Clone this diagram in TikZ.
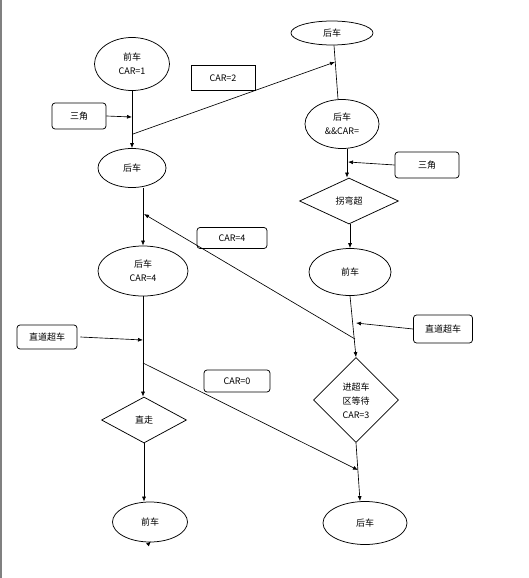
\documentclass[tikz,border=0pt]{standalone}
\usepackage{fontspec}
\setmainfont{Noto Sans CJK SC}
\usetikzlibrary{shapes.geometric,arrows.meta,calc}
\begin{document}
\begin{tikzpicture}[x=1pt,y=-1pt,
  every node/.style={font=\fontsize{9}{14}\selectfont, align=center, inner sep=0pt},
  ell/.style={draw, ellipse, line width=0.75pt},
  dia/.style={draw, diamond, line width=0.75pt},
  rbox/.style={draw, rounded corners=3pt, line width=0.75pt},
  sbox/.style={draw, line width=0.75pt},
  arr/.style={line width=0.65pt, -{Latex[length=5pt,width=4pt]}},
  ln/.style={line width=0.65pt}]
\useasboundingbox (0,0) rectangle (528,578);
\draw[gray, line width=1.5pt] (1,0) -- (1,578);
% nodes
\node[ell, minimum width=75, minimum height=53] (e1) at (132,64) {前车\\CAR=1};
\node[ell, minimum width=68, minimum height=39] (e2) at (132,168) {后车};
\node[ell, minimum width=90, minimum height=50] (e3) at (143,271) {后车\\CAR=4};
\node[dia, minimum width=85, minimum height=46] (d3) at (144,420) {直走};
\node[ell, minimum width=75, minimum height=40] (e7) at (150,522) {前车};
\node[rbox, minimum width=54, minimum height=26] (t1) at (79,116) {三角};
\node[rbox, minimum width=60, minimum height=24] (z1) at (47,337) {直道超车};
\node[sbox, minimum width=64, minimum height=25] (c2) at (223,78) {CAR=2};
\node[rbox, minimum width=70, minimum height=21] (c4) at (232,238) {CAR=4};
\node[rbox, minimum width=66, minimum height=22] (c0) at (237,381) {CAR=0};
\node[ell, minimum width=82, minimum height=24] (e4) at (332,33) {后车};
\node[ell, minimum width=74, minimum height=49] (e5) at (342,124) {后车\\\&\&CAR=};
\node[rbox, minimum width=64, minimum height=26] (t2) at (427,165) {三角};
\node[dia, minimum width=99, minimum height=46] (d1) at (349,201) {拐弯超};
\node[ell, minimum width=82, minimum height=47] (e6) at (350,272) {前车};
\node[rbox, minimum width=59, minimum height=28] (z2) at (443,329) {直道超车};
\node[dia, minimum width=85, minimum height=85] (d2) at (356,400) {};
\node (d2t) at (356,401) {进超车\\区等待\\CAR=3};
\node[ell, minimum width=84, minimum height=43] (e8) at (365,523) {后车};
% junction coordinates
\coordinate (j1) at (132,117);
\coordinate (j2) at (133,134);
\coordinate (j3) at (335,62);
\coordinate (j4) at (348,162);
\coordinate (j5) at (143,340);
\coordinate (j6) at (143,363);
\coordinate (j7) at (358,470);
\coordinate (j8) at (356,323);
\coordinate (j9) at (355,339);
\coordinate (j10) at (144,214);
% connectors
\draw[arr] (e1.south) -- (e2.north);
\draw[arr] (t1.east) -- (j1);
\draw[arr] (j2) -- (j3);
\draw[ln] ([xshift=2]e4.south) -- ([xshift=-4]e5.north);
\draw[arr] ([xshift=5]e5.south) -- ([xshift=-2]d1.north);
\draw[arr] (t2.west) -- (j4);
\draw[arr] ([xshift=1]d1.south) -- (e6.north);
\draw[arr] ([xshift=11]e2.south) -- (e3.north);
\draw[arr] (e3.south) -- ([xshift=-1]d3.north);
\draw[arr] ([xshift=3]z1.east) -- (j5);
\draw[arr] (j6) -- (j7);
\draw[arr] (d3.south) -- ([xshift=-6]e7.north);
\draw[arr] (e6.south) -- (d2.north);
\draw[arr] (z2.west) -- (j8);
\draw[arr] (j9) -- (j10);
\draw[arr] (d2.south) -- ([xshift=-5]e8.north);
\draw[arr] ([xshift=-2,yshift=-2]e7.south) -- ([xshift=1,yshift=1]e7.south);
\end{tikzpicture}
\end{document}
